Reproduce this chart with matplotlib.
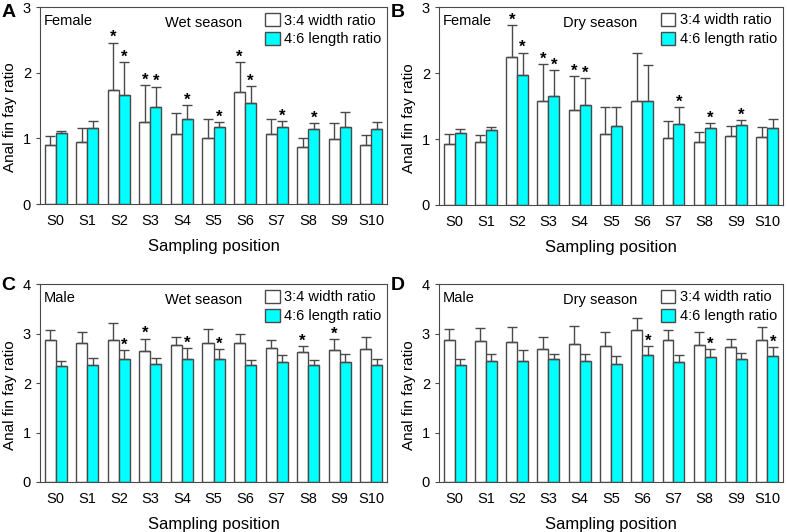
import numpy as np
import matplotlib
matplotlib.use("Agg")
import matplotlib.pyplot as plt

plt.rcParams['font.family'] = ['Liberation Sans', 'DejaVu Sans']

sites = ["S0", "S1", "S2", "S3", "S4", "S5", "S6", "S7", "S8", "S9", "S10"]

# A: female, wet season
a_w = [0.90, 0.94, 1.74, 1.25, 1.07, 1.01, 1.70, 1.06, 0.87, 0.99, 0.90]
a_w_sd = [0.13, 0.22, 0.72, 0.56, 0.31, 0.29, 0.46, 0.24, 0.13, 0.24, 0.15]
a_c = [1.08, 1.16, 1.66, 1.48, 1.30, 1.17, 1.54, 1.17, 1.15, 1.18, 1.15]
a_c_sd = [0.04, 0.10, 0.50, 0.31, 0.21, 0.08, 0.26, 0.10, 0.08, 0.22, 0.10]
a_w_star = [2, 3, 6]
a_c_star = [2, 3, 4, 5, 6, 7, 8]

# B: female, dry season
b_w = [0.92, 0.95, 2.24, 1.58, 1.44, 1.08, 1.57, 1.01, 0.96, 1.05, 1.03]
b_w_sd = [0.15, 0.11, 0.49, 0.56, 0.51, 0.40, 0.74, 0.26, 0.15, 0.15, 0.15]
b_c = [1.09, 1.13, 1.97, 1.65, 1.52, 1.19, 1.57, 1.23, 1.16, 1.21, 1.16]
b_c_sd = [0.06, 0.05, 0.34, 0.40, 0.40, 0.29, 0.55, 0.26, 0.08, 0.08, 0.14]
b_w_star = [2, 3, 4]
b_c_star = [2, 3, 4, 7, 8, 9]

# C: male, wet season
c_w = [2.88, 2.80, 2.86, 2.64, 2.77, 2.81, 2.80, 2.71, 2.63, 2.66, 2.69]
c_w_sd = [0.19, 0.23, 0.36, 0.26, 0.17, 0.29, 0.19, 0.16, 0.12, 0.23, 0.25]
c_c = [2.34, 2.37, 2.48, 2.38, 2.48, 2.48, 2.37, 2.42, 2.36, 2.42, 2.36]
c_c_sd = [0.10, 0.13, 0.18, 0.13, 0.22, 0.21, 0.09, 0.15, 0.11, 0.17, 0.13]
c_w_star = [3, 8, 9]
c_c_star = [2, 4, 5]

# D: male, dry season
d_w = [2.86, 2.84, 2.82, 2.68, 2.79, 2.75, 3.08, 2.87, 2.77, 2.72, 2.87]
d_w_sd = [0.24, 0.27, 0.31, 0.26, 0.37, 0.28, 0.24, 0.21, 0.26, 0.17, 0.26]
d_c = [2.37, 2.44, 2.45, 2.48, 2.45, 2.38, 2.56, 2.43, 2.53, 2.49, 2.54]
d_c_sd = [0.11, 0.14, 0.21, 0.11, 0.13, 0.16, 0.19, 0.14, 0.15, 0.11, 0.19]
d_w_star = []
d_c_star = [6, 8, 10]

edge = "#4a4a4a"
cyan = "#00ffff"
bw = 0.35

fig = plt.figure(figsize=(7.87, 5.32), dpi=100)


def panel(rect, letter, lpos, sex, season, ymax, w, wsd, c, csd, wstar, cstar):
    ax = fig.add_axes(rect)
    x = np.arange(len(sites))
    ek = dict(ecolor=edge, elinewidth=1, capsize=3.5, capthick=1)
    ax.bar(x - bw / 2, w, bw, color="white", edgecolor=edge, linewidth=1,
           yerr=[np.zeros(len(w)), wsd], error_kw=ek, label="3:4 width ratio")
    ax.bar(x + bw / 2, c, bw, color=cyan, edgecolor=edge, linewidth=1,
           yerr=[np.zeros(len(c)), csd], error_kw=ek, label="4:6 length ratio")
    for i in wstar:
        ax.annotate("*", (x[i] - bw / 2, w[i] + wsd[i]), xytext=(0, 3.5),
                    textcoords="offset points", ha="center", va="center",
                    fontsize=12, fontweight="bold")
    for i in cstar:
        ax.annotate("*", (x[i] + bw / 2, c[i] + csd[i]), xytext=(0, 3.5),
                    textcoords="offset points", ha="center", va="center",
                    fontsize=12, fontweight="bold")
    ax.set_xlim(-0.5, 10.5)
    ax.set_ylim(0, ymax)
    ax.set_yticks(range(ymax + 1))
    ax.set_xticks(x)
    ax.set_xticklabels(sites)
    ax.tick_params(axis="x", length=0, labelsize=10.5, pad=7)
    ax.tick_params(axis="y", length=3, labelsize=10.5, color=edge)
    for s in ax.spines.values():
        s.set_color(edge)
    ax.set_xlabel("Sampling position", fontsize=12, labelpad=8)
    ax.set_ylabel("Anal fin fay ratio", fontsize=11)
    ax.yaxis.set_label_coords(-0.066, 0.44)
    ax.text(0.012, 0.965, sex, transform=ax.transAxes, fontsize=10.5,
            ha="left", va="top")
    ax.text(0.36, 0.955, season, transform=ax.transAxes, fontsize=10.5,
            ha="left", va="top")
    ax.legend(loc="upper right", frameon=False, fontsize=10.5,
              handlelength=1.0, handleheight=1.0, handletextpad=0.3,
              borderaxespad=0.1, labelspacing=0.3, borderpad=0.3)
    fig.text(lpos[0], lpos[1], letter, fontsize=14, fontweight="bold",
             ha="left", va="top")
    return ax


panel([0.0508, 0.6165, 0.441, 0.370], "A", (0.002, 0.992), "Female",
      "Wet season", 3, a_w, a_w_sd, a_c, a_c_sd, a_w_star, a_c_star)
panel([0.5578, 0.6147, 0.437, 0.372], "B", (0.497, 0.992), "Female",
      "Dry season", 3, b_w, b_w_sd, b_c, b_c_sd, b_w_star, b_c_star)
panel([0.0508, 0.094, 0.441, 0.372], "C", (0.002, 0.48), "Male",
      "Wet season", 4, c_w, c_w_sd, c_c, c_c_sd, c_w_star, c_c_star)
panel([0.5578, 0.094, 0.437, 0.372], "D", (0.497, 0.48), "Male",
      "Dry season", 4, d_w, d_w_sd, d_c, d_c_sd, d_w_star, d_c_star)

fig.savefig("out.png", dpi=100)
